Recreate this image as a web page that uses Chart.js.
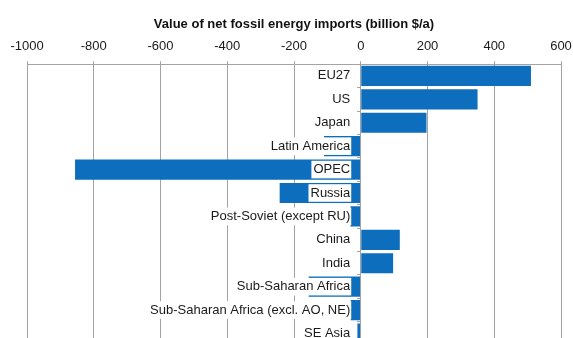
<!DOCTYPE html>
<html>
<head>
<meta charset="utf-8">
<script src="https://cdn.jsdelivr.net/npm/chart.js@4/dist/chart.umd.min.js"></script>
<style>
  html, body { margin: 0; padding: 0; background: #fff; overflow: hidden; }
  #wrap { position: relative; width: 573px; height: 353px; }
</style>
</head>
<body>
<div id="wrap"><canvas id="c"></canvas></div>
<script>
// Regions, top to bottom
const regions = [
  'EU27', 'US', 'Japan', 'Latin America', 'OPEC', 'Russia',
  'Post-Soviet (except RU)', 'China', 'India', 'Sub-Saharan Africa',
  'Sub-Saharan Africa (excl. AO, NE)', 'SE Asia'
];
// Net fossil energy imports, billion $/a (negative = net exporter)
const netImports = [510, 350, 197, -110, -856, -243, -31, 117, 97, -156, -30, -10];
// Value axis
const axisMin = -1000;
const axisMax = 600;
const axisStep = 200;
const axisTitle = 'Value of net fossil energy imports (billion $/a)';
// Region names sit just left of the zero line (gap in axis units)
const labelGap = 31.5;

const FONT = '"Liberation Sans", Arial, Helvetica, sans-serif';
const GRID = '#a3a3a3';
const BLUE = '#0c6ebd';

new Chart(document.getElementById('c'), {
  type: 'bar',
  data: {
    labels: regions,
    datasets: [{
      data: netImports,
      backgroundColor: BLUE,
      borderWidth: 0,
      barPercentage: 0.86,
      categoryPercentage: 1
    }]
  },
  options: {
    indexAxis: 'y',
    responsive: true,
    maintainAspectRatio: false,
    animation: false,
    layout: { padding: { top: 10, left: 27, right: 12, bottom: 0 } },
    plugins: { legend: { display: false }, tooltip: { enabled: false } },
    scales: {
      x: {
        position: 'top',
        min: axisMin,
        max: axisMax,
        afterFit: (s) => { s.paddingLeft = 0; s.paddingRight = 0; },
        ticks: {
          stepSize: axisStep,
          padding: 7,
          color: '#1a1a1a',
          font: { family: FONT, size: 13 },
          callback: (v) => String(v)
        },
        grid: { color: GRID, lineWidth: 1, tickLength: 3 },
        border: { display: true, color: GRID },
        title: {
          display: true,
          text: axisTitle,
          color: '#111',
          font: { family: FONT, size: 13, weight: 'bold' },
          padding: { top: 7, bottom: -1 }
        }
      },
      // region names with white boxes, drawn above the bars
      y: {
        position: { x: -labelGap },
        offset: true,
        ticks: {
          z: 1,
          padding: 0,
          color: '#1a1a1a',
          font: { family: FONT, size: 13 },
          showLabelBackdrop: true,
          backdropColor: '#ffffff',
          backdropPadding: { top: 1, bottom: 1, left: 2, right: 1 }
        },
        grid: { display: false },
        border: { display: false }
      },
      // zero line with small category tick marks
      y0: {
        type: 'category',
        axis: 'y',
        position: { x: 0 },
        offset: true,
        ticks: { display: false },
        grid: { drawOnChartArea: false, drawTicks: true, tickLength: 3, color: GRID, offset: true, z: 1 },
        border: { display: true, color: GRID, z: 1 }
      }
    }
  }
});
</script>
</body>
</html>
